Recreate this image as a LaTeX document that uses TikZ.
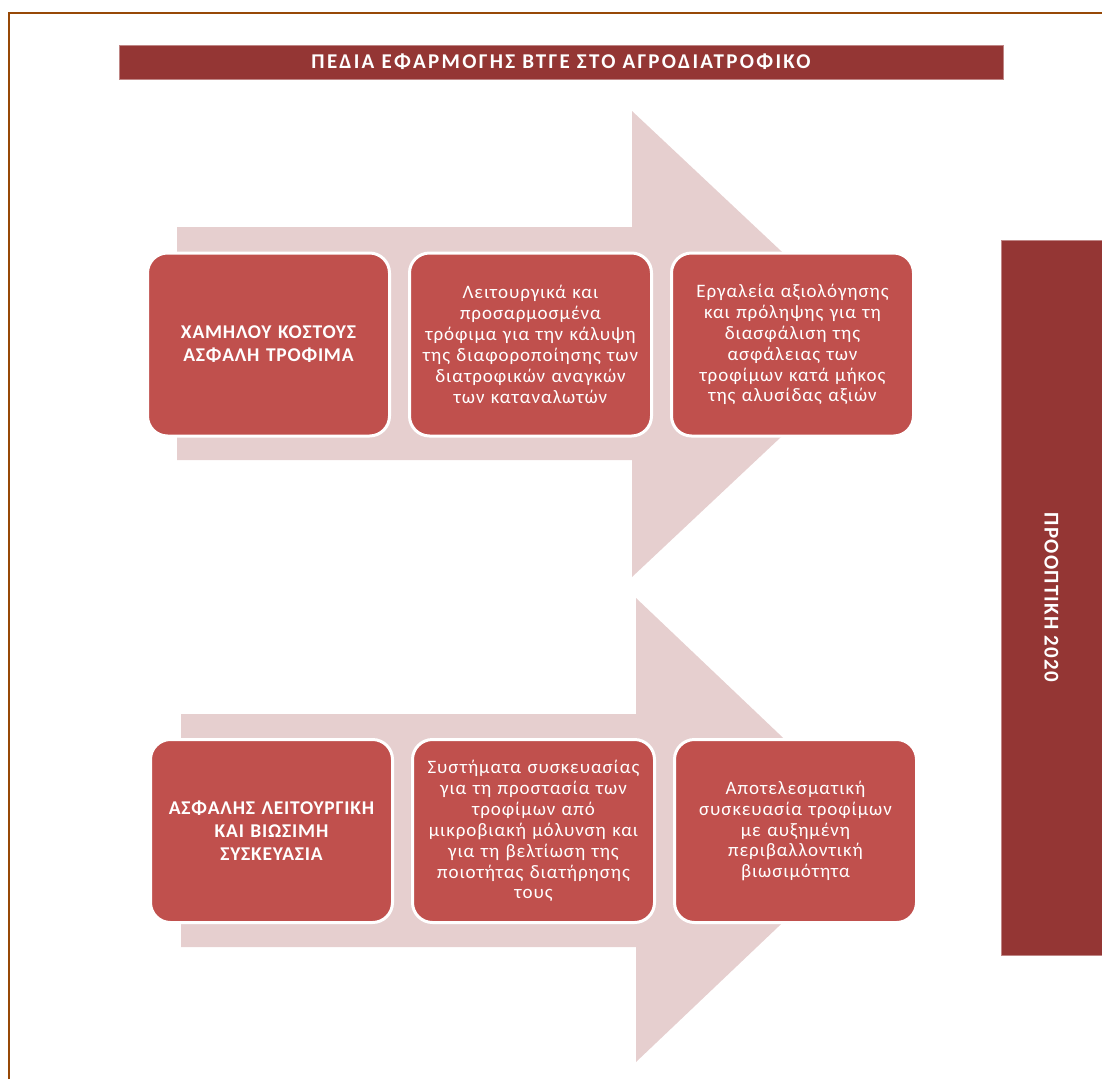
\documentclass[tikz,border=0pt]{standalone}
\usepackage{fontspec}
\setmainfont{Carlito}
\newfontfamily\boxfont[LetterSpace=5]{Carlito}
\newfontfamily\headfont[LetterSpace=4]{Carlito}
\newfontfamily\bandfont[LetterSpace=11]{Carlito}
\newfontfamily\viewfont[LetterSpace=6]{Carlito}
\usepackage{tikz}
\usetikzlibrary{positioning}
\definecolor{deep}{HTML}{943634}
\definecolor{brick}{HTML}{C0504D}
\definecolor{blush}{HTML}{E6CFCF}
\definecolor{frame}{HTML}{974806}

\begin{document}
\begin{tikzpicture}[
    x=1pt,y=-1pt,
    node distance=17pt,
    box/.style={draw=white,line width=3pt,fill=brick,rounded corners=20pt,minimum width=242pt,minimum height=183pt,
                text width=238pt,inner sep=2pt,align=center,text=white,font=\boxfont\fontsize{19}{20.9}\selectfont},
    headbox/.style={box,font=\headfont\fontsize{19.5}{23}\selectfont\bfseries},
    band/.style={fill=deep,draw=deep!60!white,line width=0.6pt,text=white,inner sep=0pt,font=\bandfont\fontsize{21}{22}\selectfont\bfseries}
  ]
    \useasboundingbox (0,0) rectangle (1102,1079);
    \draw[frame,line width=2.5pt] (9,1079) -- (9,13) -- (1102,13);

    \node[band,minimum width=884pt,minimum height=34pt] (title) at (561,62) {ΠΕΔΙΑ ΕΦΑΡΜΟΓΗΣ ΒΤΓΕ ΣΤΟ ΑΓΡΟΔΙΑΤΡΟΦΙΚΟ};
    \node[band,rotate=-90,minimum width=715pt,minimum height=101pt,font=\viewfont\fontsize{21}{22}\selectfont\bfseries] (view) at (1051.5,597.5) {ΠΡΟΟΠΤΙΚΗ 2020};

    \fill[blush] (177,227) -- (632,227) -- (632,111) -- (880,344) -- (632,577) -- (632,460) -- (177,460) -- cycle;
    \fill[blush] (181,714) -- (636,714) -- (636,598) -- (880,830) -- (636,1062) -- (636,947) -- (181,947) -- cycle;

    \node[headbox] (food) at (268.5,344.5) {ΧΑΜΗΛΟΥ ΚΟΣΤΟΥΣ\\ ΑΣΦΑΛΗ ΤΡΟΦΙΜΑ};
    \node[box,right=of food] (func) {Λειτουργικά και\\ προσαρμοσμένα\\ τρόφιμα για την κάλυψη\\ της διαφοροποίησης των\\ διατροφικών αναγκών\\ των καταναλωτών};
    \node[box,right=of func] (tools) {Εργαλεία αξιολόγησης\\ και πρόληψης για τη\\ διασφάλιση της\\ ασφάλειας των\\ τροφίμων κατά μήκος\\ της αλυσίδας αξιών};

    \node[headbox] (pack) at (271.5,831) {ΑΣΦΑΛΗΣ ΛΕΙΤΟΥΡΓΙΚΗ\\ ΚΑΙ ΒΙΩΣΙΜΗ\\ ΣΥΣΚΕΥΑΣΙΑ};
    \node[box,right=of pack] (guard) {Συστήματα συσκευασίας\\ για τη προστασία των\\ τροφίμων από\\ μικροβιακή μόλυνση και\\ για τη βελτίωση της\\ ποιοτήτας διατήρησης\\ τους};
    \node[box,right=of guard] (green) {Αποτελεσματική\\ συσκευασία τροφίμων\\ με αυξημένη\\ περιβαλλοντική\\ βιωσιμότητα};
  \end{tikzpicture}
\end{document}
